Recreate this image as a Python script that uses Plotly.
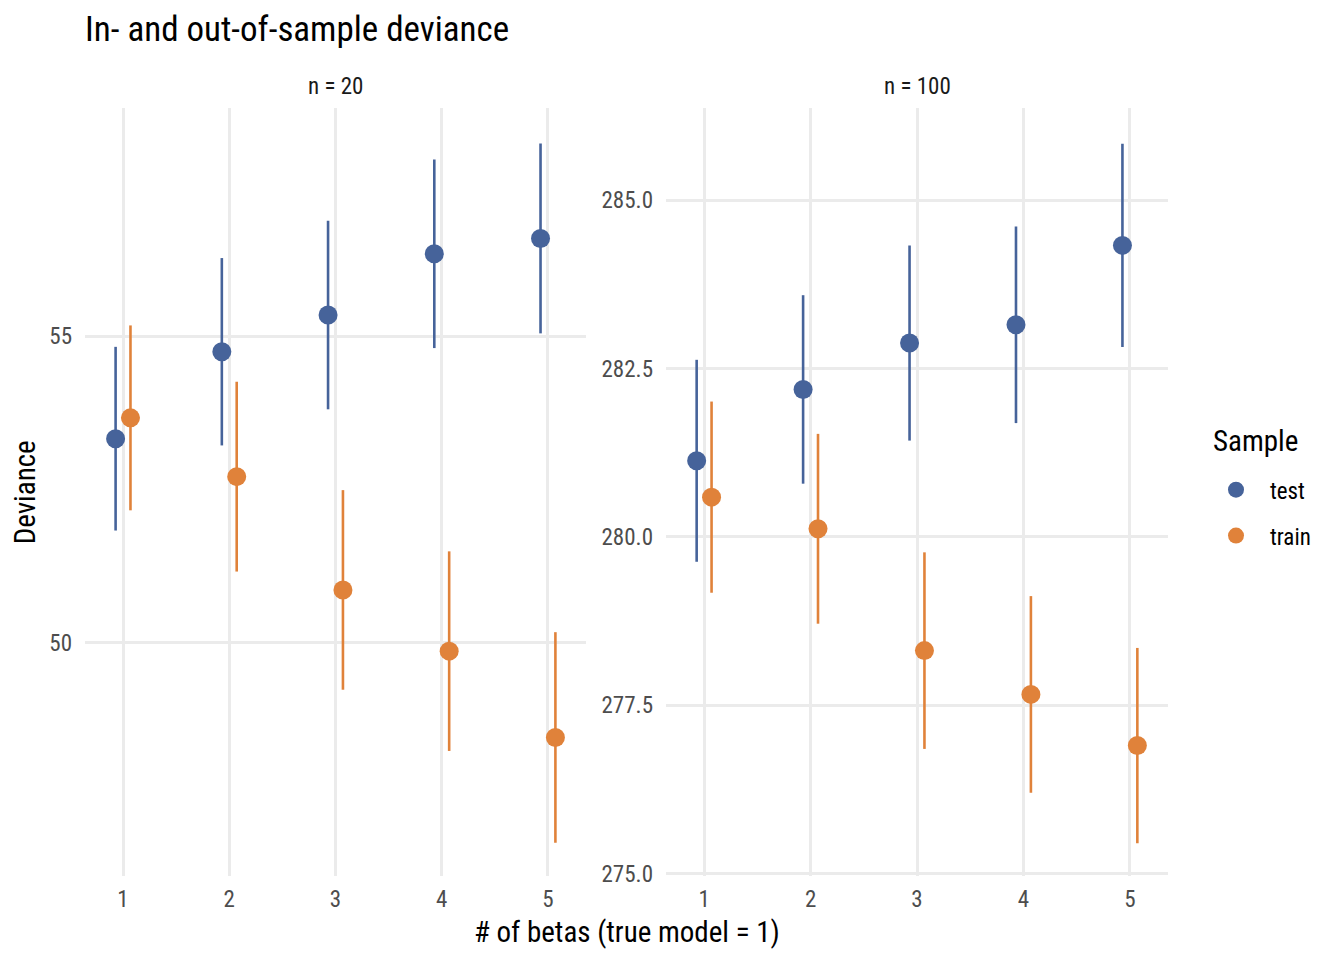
import plotly.graph_objects as go

betas = [1, 2, 3, 4, 5]
samples = ["test", "train"]

n20_test_mean = [53.33, 54.75, 55.35, 56.35, 56.60]
n20_test_err = [1.50, 1.53, 1.54, 1.54, 1.55]
n20_train_mean = [53.67, 52.71, 50.86, 49.86, 48.45]
n20_train_err = [1.51, 1.55, 1.63, 1.63, 1.72]

n100_test_mean = [281.13, 282.19, 282.88, 283.15, 284.33]
n100_test_err = [1.50, 1.40, 1.45, 1.46, 1.51]
n100_train_mean = [280.59, 280.12, 278.31, 277.66, 276.90]
n100_train_err = [1.42, 1.41, 1.46, 1.46, 1.45]

left_ticks = [50, 55]
right_ticks = [275.0, 277.5, 280.0, 282.5, 285.0]

colors = {"test": "#46639A", "train": "#E0823A"}
dodge = {"test": -0.07, "train": 0.07}
FONT = "Roboto Condensed, Liberation Sans Narrow, DejaVu Sans Condensed, Roboto, sans-serif"

W, H = 1344, 960


def px(x):
    return (x - 8) / W


def py(y):
    return 1 - ((y - 7) / 0.988) / H


fig = go.Figure()

panels = [
    ("x", "y", {"test": (n20_test_mean, n20_test_err), "train": (n20_train_mean, n20_train_err)}, True),
    ("x2", "y2", {"test": (n100_test_mean, n100_test_err), "train": (n100_train_mean, n100_train_err)}, False),
]
for xa, ya, data, show in panels:
    for s in samples:
        m, e = data[s]
        fig.add_trace(go.Scatter(
            x=[b + dodge[s] for b in betas], y=m,
            mode="markers", name=s, legendgroup=s, showlegend=show,
            marker=dict(color=colors[s], size=19),
            error_y=dict(type="data", array=e, visible=True, width=0,
                         thickness=2.6, color=colors[s]),
            xaxis=xa, yaxis=ya,
        ))

grid = "#EBEBEB"
axis_common = dict(showgrid=True, gridcolor=grid, gridwidth=2.6, zeroline=False,
                   showline=False, ticks="",
                   tickfont=dict(family=FONT, size=23, color="#4D4D4D"))

x0, x1 = px(85), px(586)
x2a, x2b = px(666), px(1168)
yb, yt = py(875), py(107)

fig.update_layout(
    width=W, height=H,
    margin=dict(l=0, r=0, t=0, b=0),
    paper_bgcolor="white", plot_bgcolor="white",
    font=dict(family=FONT, color="black"),
    showlegend=True,
    xaxis=dict(domain=[x0, x1], range=[0.642, 5.358], tickvals=betas,
               ticktext=[str(b) for b in betas], anchor="y", ticklabelstandoff=7, **axis_common),
    yaxis=dict(domain=[yb, yt], range=[46.18, 58.73], tickvals=left_ticks,
               ticktext=[str(t) for t in left_ticks], anchor="x", ticklabelstandoff=12, **axis_common),
    xaxis2=dict(domain=[x2a, x2b], range=[0.642, 5.358], tickvals=betas,
                ticktext=[str(b) for b in betas], anchor="y2", ticklabelstandoff=7, **axis_common),
    yaxis2=dict(domain=[yb, yt], range=[274.955, 286.37], tickvals=right_ticks,
                ticktext=[f"{t:.1f}" for t in right_ticks], anchor="x2", ticklabelstandoff=12, **axis_common),
    legend=dict(x=px(1202), y=py(467), xanchor="left", yanchor="top",
                font=dict(family=FONT, size=23, color="black"),
                itemsizing="trace", itemwidth=58, tracegroupgap=13, bgcolor="rgba(0,0,0,0)"),
    annotations=[
        dict(text="In- and out-of-sample deviance", x=px(83), y=py(28), xref="paper", yref="paper",
             xanchor="left", yanchor="middle", showarrow=False,
             font=dict(family=FONT, size=35, color="black")),
        dict(text="n = 20", x=(x0 + x1) / 2, y=py(85), xref="paper", yref="paper",
             xanchor="center", yanchor="middle", showarrow=False,
             font=dict(family=FONT, size=23, color="#1A1A1A")),
        dict(text="n = 100", x=(x2a + x2b) / 2, y=py(85), xref="paper", yref="paper",
             xanchor="center", yanchor="middle", showarrow=False,
             font=dict(family=FONT, size=23, color="#1A1A1A")),
        dict(text="# of betas (true model = 1)", x=px(627), y=py(930), xref="paper", yref="paper",
             xanchor="center", yanchor="middle", showarrow=False,
             font=dict(family=FONT, size=29, color="black")),
        dict(text="Deviance", x=px(25), y=py(491), xref="paper", yref="paper",
             xanchor="center", yanchor="middle", showarrow=False, textangle=-90,
             font=dict(family=FONT, size=29, color="black")),
        dict(text="Sample", x=px(1211), y=py(440), xref="paper", yref="paper",
             xanchor="left", yanchor="middle", showarrow=False,
             font=dict(family=FONT, size=29, color="black")),
    ],
)

fig.write_html("out.html")
